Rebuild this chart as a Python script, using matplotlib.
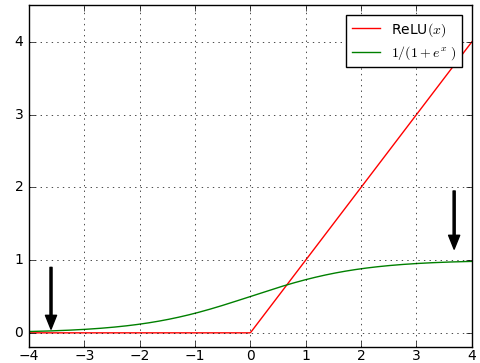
import numpy as np
import matplotlib
matplotlib.use("Agg")
import matplotlib.pyplot as plt

plt.style.use("classic")

# data
x_min, x_max = -4, 4
xticks = [-4, -3, -2, -1, 0, 1, 2, 3, 4]
yticks = [0, 1, 2, 3, 4]
labels = ["ReLU$(x)$", "$1/(1+e^x\\ )$"]
# arrows: (x, y_tail, y_head)
arrow_x = [-3.6, 3.68]
arrow_tail = [0.9, 1.95]
arrow_head = [0.05, 1.15]

x = np.linspace(x_min, x_max, 400)
relu = np.maximum(0, x)
sig = 1 / (1 + np.exp(-x))

fig = plt.figure(figsize=(4.81, 3.63), dpi=100)
ax = fig.add_axes([0.06, 0.043, 0.921, 0.942])
ax.plot(x, relu, color="red", label=labels[0])
ax.plot(x, sig, color="green", label=labels[1])

for xa, yt, yh in zip(arrow_x, arrow_tail, arrow_head):
    ax.annotate("", xy=(xa, yh), xytext=(xa, yt),
                arrowprops=dict(facecolor="black", edgecolor="black",
                                width=1.5, headwidth=8, headlength=10))

ax.set_xlim(x_min, x_max)
ax.set_ylim(-0.2, 4.5)
ax.set_xticks(xticks)
ax.set_yticks(yticks)
ax.tick_params(labelsize=10)
ax.tick_params(axis="x", pad=1)
ax.grid(True)
leg = ax.legend(loc="upper right", fontsize=10, numpoints=1,
                borderaxespad=0.7, labelspacing=0.4)

fig.savefig("out.png", dpi=100)
